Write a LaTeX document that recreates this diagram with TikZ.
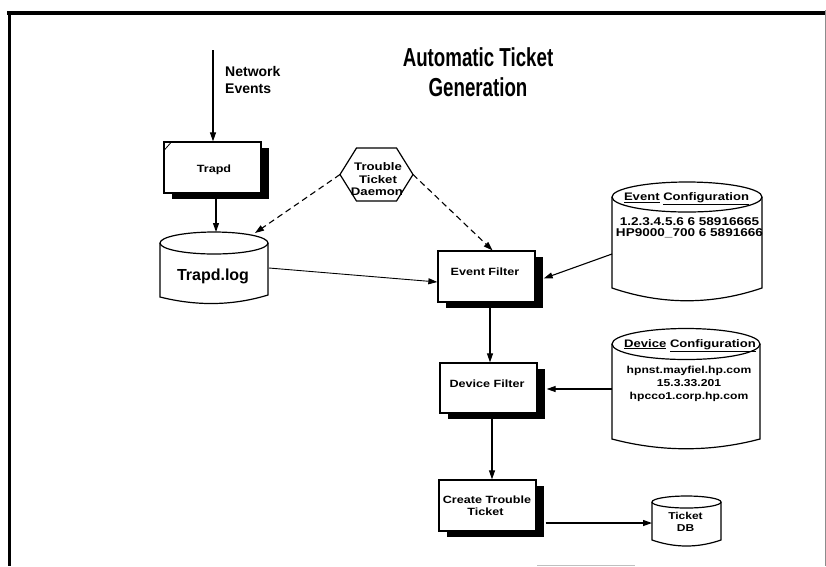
\documentclass[tikz,border=0pt]{standalone}
\usepackage{fontspec}
\setmainfont{Liberation Sans}
\newfontfamily\wf[FakeStretch=1.2]{Liberation Sans}
\newfontfamily\cf[FakeStretch=0.72]{Liberation Sans}
\usetikzlibrary{arrows.meta,shadows}
\begin{document}
\begin{tikzpicture}[x=1pt,y=-1pt,
  box/.style={draw, fill=white, line width=1.3pt, minimum width=97pt, minimum height=51pt, inner sep=0pt,
     drop shadow={shadow xshift=8pt, shadow yshift=-6pt, fill=black, opacity=1}},
  txt/.style={inner sep=0pt, anchor=base},
  boxfont/.style={font=\wf\bfseries\fontsize{10.5}{12.5}\selectfont},
  cyl/.style={draw, line width=1.2pt},
  arr/.style={-{Triangle[length=9pt,width=6pt]}, line width=1.1pt},
  dasharr/.style={arr, dash pattern=on 6pt off 4pt},
]
\useasboundingbox (0,0) rectangle (826,566);
% frame
\draw[line width=3.5pt] (7,13) -- (826,13);
\draw[line width=3.5pt] (9.5,11.5) -- (9.5,566);
\draw[line width=0.6pt, black!45] (825,10) -- (825,566);
\draw[line width=0.6pt, black!25] (537,565) -- (635,565);

% title
\node[txt, font=\cf\bfseries\fontsize{26}{30}\selectfont] (t1) at (478,66) {Automatic Ticket};
\node[txt, font=\cf\bfseries\fontsize{26}{30}\selectfont] (t2) at (478,96) {Generation};

% network events
\node[txt, anchor=base west, font=\bfseries\fontsize{14}{17}\selectfont] (ne1) at (225,76) {Network};
\node[txt, anchor=base west, font=\bfseries\fontsize{14}{17}\selectfont] (ne2) at (225,93) {Events};
\coordinate (netin) at (213,50);

% Trapd
\node[box] (trapd) at (212.5,167.5) {};
\node[txt, boxfont] (trapdl) at (214,172) {Trapd};
\draw[line width=0.8pt] (163.5,151) -- (170.5,143);
\draw[arr] (netin) -- (netin |- trapd.north);

% Trapd.log cylinder
\draw[cyl, fill=white] (160,243) -- (160,297) .. controls (196,306) and (232,306) .. (268,295) -- (268,243);
\draw[cyl] (214,243) ellipse [x radius=54pt, y radius=11pt];
\node[txt, font=\bfseries\fontsize{16}{19}\selectfont] (logl) at (213,280) {Trapd.log};
\coordinate (logtop) at (216,232);
\coordinate (logtop2) at (255,233);
\coordinate (logR) at (269,268);
\draw[arr] (logtop |- trapd.south) -- (logtop);

% hexagon
\draw[line width=1.2pt] (356.5,148) -- (396.5,148) -- (413,174.5) -- (396.5,201) -- (356.5,201) -- (340,174.5) -- cycle;
\coordinate (hexW) at (340,174.5);
\coordinate (hexE) at (413,174.5);
\node[txt, font=\wf\bfseries\fontsize{11}{13}\selectfont] (h1) at (378,170) {Trouble};
\node[txt, font=\wf\bfseries\fontsize{11}{13}\selectfont] (h2) at (378,183) {Ticket};
\node[txt, font=\wf\bfseries\fontsize{11}{13}\selectfont] (h3) at (377,195) {Daemon};

% boxes
\node[box] (evf) at (486.5,276.5) {};
\node[txt, boxfont] (evfl) at (485,275) {Event Filter};
\node[box, minimum height=50pt] (dvf) at (488.5,388) {};
\node[txt, boxfont] (dvfl) at (487,387) {Device Filter};
\node[box] (ctt) at (487.5,505.5) {};
\node[txt, boxfont] (ctt1) at (487,503) {Create Trouble};
\node[txt, boxfont] (ctt2) at (485.5,515) {Ticket};

% Event configuration cylinder
\draw[cyl, fill=white] (612,197) -- (612,288) .. controls (662,305) and (712,305) .. (762,288) -- (762,197);
\draw[cyl] (687,197) ellipse [x radius=75pt, y radius=15pt];
\node[txt, font=\wf\bfseries\fontsize{10.9}{13}\selectfont] (ech) at (686.5,200.5) {\underline{Event} \underline{Configuration}};
\node[txt, font=\wf\bfseries\fontsize{11.3}{13}\selectfont] (ec1) at (689.5,225) {1.2.3.4.5.6 6 58916665};
\node[txt, font=\wf\bfseries\fontsize{11.3}{13}\selectfont] (ec2) at (689.5,236) {HP9000\_700 6 5891666};
\coordinate (ecL) at (612,254);

% Device configuration cylinder
\draw[cyl, fill=white] (612,344) -- (612,439) .. controls (661,452) and (711,452) .. (760,439) -- (760,344);
\draw[cyl] (686,344) ellipse [x radius=74pt, y radius=15.5pt];
\node[txt, font=\wf\bfseries\fontsize{10.9}{13}\selectfont] (dch) at (690,347) {\underline{Device} \underline{Configuration}};
\node[txt, font=\wf\bfseries\fontsize{10.1}{13}\selectfont] (dc1) at (689,373) {hpnst.mayfiel.hp.com};
\node[txt, font=\wf\bfseries\fontsize{10.1}{13}\selectfont] (dc2) at (689,386) {15.3.33.201};
\node[txt, font=\wf\bfseries\fontsize{10.1}{13}\selectfont] (dc3) at (689,399) {hpcco1.corp.hp.com};
\coordinate (dcL) at (612,389);

% Ticket DB cylinder
\draw[cyl, fill=white] (652,502) -- (652,540) .. controls (675,548) and (698,548) .. (721,540) -- (721,502);
\draw[cyl] (686.5,502) ellipse [x radius=34.5pt, y radius=6pt];
\node[txt, font=\wf\bfseries\fontsize{10}{12}\selectfont] (db1) at (685.5,519) {Ticket};
\node[txt, font=\wf\bfseries\fontsize{10}{12}\selectfont] (db2) at (685.5,531) {DB};
\coordinate (dbL) at (652,523);

% connectors
\draw[dasharr] (hexW) -- (logtop2);
\draw[dasharr] (hexE) -- ([xshift=6pt]evf.north);
\draw[arr, line width=0.9pt] (logR) -- ([yshift=-5.5pt]evf.west);
\draw[arr] (ecL) -- ([xshift=8pt,yshift=-2pt]evf.east);
\draw[arr] ([xshift=3.5pt]evf.south) -- ([xshift=1.5pt]dvf.north);
\draw[arr] (dcL) -- ([xshift=9pt,yshift=-1pt]dvf.east);
\draw[arr] ([xshift=3.5pt]dvf.south) -- ([xshift=4.5pt]ctt.north);
\draw[arr] ([xshift=9pt,yshift=-17.5pt]ctt.east) -- (dbL);
\end{tikzpicture}
\end{document}
